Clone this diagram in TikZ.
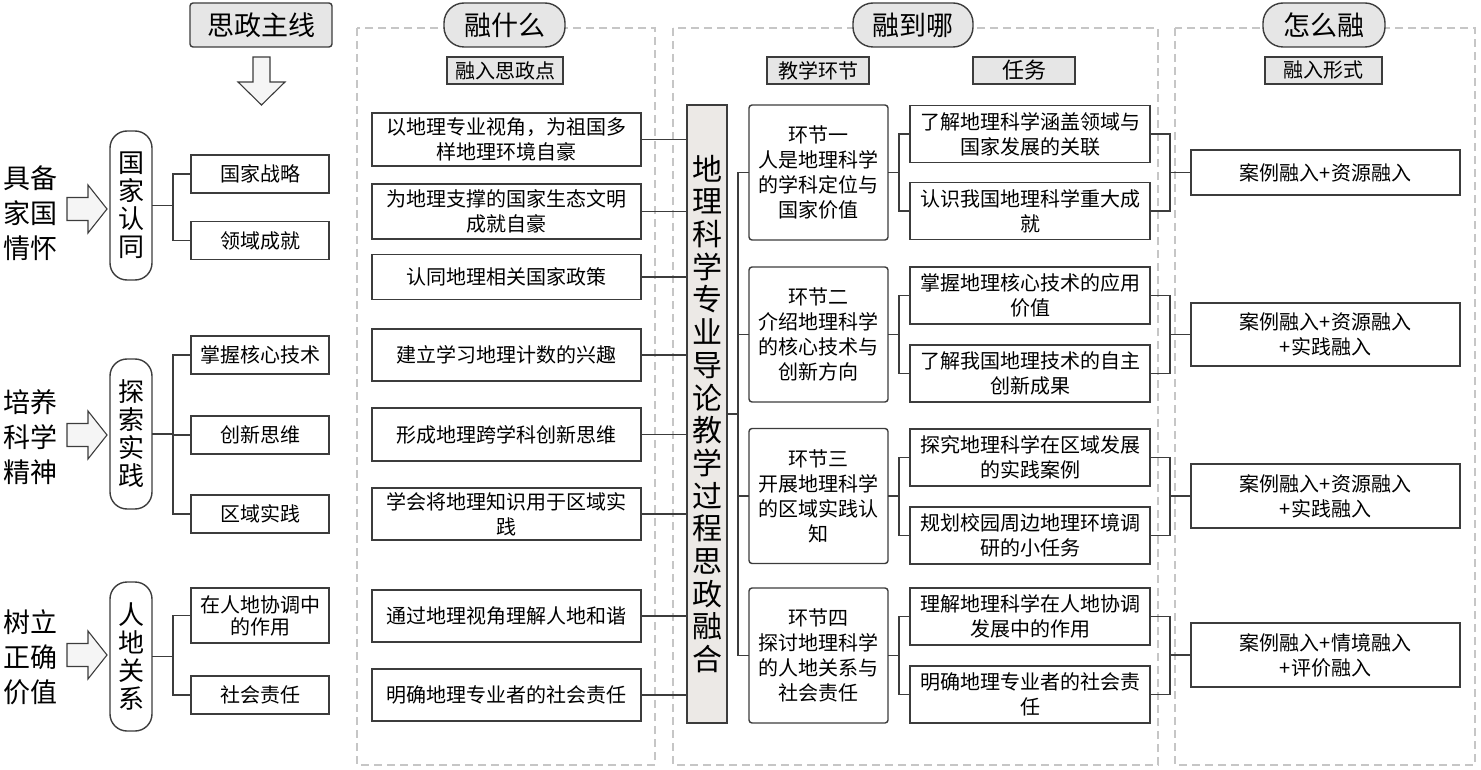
\documentclass[tikz,border=0pt]{standalone}
\usepackage{fontspec}
\setmainfont{Noto Sans CJK SC}
\usetikzlibrary{calc}
\definecolor{lc}{HTML}{3C3C3C}
\definecolor{hg}{HTML}{E6E6E6}
\definecolor{cg}{HTML}{ECE9E6}
\definecolor{dg}{HTML}{C6C6C6}
\definecolor{ag}{HTML}{F5F5F5}
\tikzset{
  every node/.style={inner sep=0pt, outer sep=0pt},
  conn/.style={draw=lc, line width=1.1pt},
  box/.style={draw=lc, line width=1.4pt, fill=white, align=center, font=\fontsize{20}{25}\selectfont},
  rbox/.style={box, rounded corners=3pt},
  pill/.style={draw=lc, line width=1.4pt, fill=white, rounded corners=17pt, align=center, font=\fontsize{26}{28}\selectfont},
  hpill/.style={draw=lc, line width=1.4pt, fill=hg, rounded corners=20pt, font=\fontsize{27}{30}\selectfont, minimum height=44pt},
  subhead/.style={draw=lc, line width=1.8pt, fill=hg, font=\fontsize{20}{22}\selectfont, minimum height=27pt},
  col/.style={draw=dg, line width=1.2pt, dash pattern=on 8pt off 5pt},
  lab/.style={align=center, font=\fontsize{27}{35}\selectfont},
  blockarrow/.style={draw=lc, line width=1.1pt, fill=ag, line join=miter},
}
\begin{document}
\begin{tikzpicture}[x=1pt,y=-1pt]
\useasboundingbox (0,0) rectangle (1481,770);
% dashed columns
\draw[col] (357,28) rectangle (655,765);
\draw[col] (673,28) rectangle (1158,765);
\draw[col] (1175,28) rectangle (1475,765);

% headers
\node[draw=lc, line width=1.4pt, fill=hg, rounded corners=3pt, font=\fontsize{27}{30}\selectfont,
      minimum width=142pt, minimum height=44pt] (hmain) at (261,25) {思政主线};
\node[hpill, minimum width=121pt] (hwhat) at (504.5,25) {融什么};
\node[hpill, minimum width=120pt] (hwhere) at (913,25) {融到哪};
\node[hpill, minimum width=122pt] (hhow) at (1324,25) {怎么融};

\node[subhead, minimum width=116pt] (s1) at (505,70.5) {融入思政点};
\node[subhead, minimum width=102pt] (s2) at (818,70.5) {教学环节};
\node[subhead, minimum width=102pt, font=\fontsize{22}{24}\selectfont] (s3) at (1024,70.5) {任务};
\node[subhead, minimum width=117pt] (s4) at (1323.5,70.5) {融入形式};

% down block arrow
\draw[blockarrow] (253,57) -- (270,57) -- (270,82) -- (285,82) -- (261.5,105) -- (238,82) -- (253,82) -- cycle;

% left labels
\node[lab] (l1) at (31,213) {具备\\家国\\情怀};
\node[lab] (l2) at (31,437) {培养\\科学\\精神};
\node[lab] (l3) at (31,657) {树立\\正确\\价值};

% right block arrows
\foreach \cy in {209,435,655}{
  \draw[blockarrow] (67,\cy-11.5) -- (88,\cy-11.5) -- (88,\cy-24) -- (107,\cy) -- (88,\cy+24) -- (88,\cy+11.5) -- (67,\cy+11.5) -- cycle;
}

% pills
\node[pill, minimum width=42pt, minimum height=149pt] (p1) at (131,205.5) {国\\家\\认\\同};
\node[pill, minimum width=42pt, minimum height=150pt] (p2) at (131,434) {探\\索\\实\\践};
\node[pill, minimum width=42pt, minimum height=149pt] (p3) at (131,656.5) {人\\地\\关\\系};

% column A boxes
\tikzset{abox/.style={box, minimum width=138pt, minimum height=38pt, font=\fontsize{20}{22}\selectfont}}
\node[abox] (a1) at (260,174) {国家战略};
\node[abox] (a2) at (260,240.5) {领域成就};
\node[abox] (a3) at (260,355) {掌握核心技术};
\node[abox] (a4) at (260,435) {创新思维};
\node[abox] (a5) at (260,514) {区域实践};
\node[abox, minimum height=55pt] (a6) at (260,615.5) {在人地协调中\\的作用};
\node[abox] (a7) at (260,695) {社会责任};

% column 1 boxes
\tikzset{bbox/.style={box, minimum width=269pt, minimum height=52pt}}
\node[bbox, minimum height=53pt] (b1) at (506.5,139.5) {以地理专业视角，为祖国多\\样地理环境自豪};
\node[bbox, minimum height=55pt] (b2) at (506.5,211.5) {为地理支撑的国家生态文明\\成就自豪};
\node[bbox, minimum height=45pt] (b3) at (506.5,277) {认同地理相关国家政策};
\node[bbox] (b4) at (506.5,355) {建立学习地理计数的兴趣};
\node[bbox, minimum height=53pt] (b5) at (506.5,434.5) {形成地理跨学科创新思维};
\node[bbox] (b6) at (506.5,514) {学会将地理知识用于区域实\\践};
\node[bbox] (b7) at (506.5,616) {通过地理视角理解人地和谐};
\node[bbox] (b8) at (506.5,695) {明确地理专业者的社会责任};

% central box
\node[draw=lc, line width=1.6pt, fill=cg, minimum width=40pt, minimum height=618pt, align=center,
      font=\fontsize{30}{32.7}\selectfont] (c) at (707,414)
  {地\\理\\科\\学\\专\\业\\导\\论\\教\\学\\过\\程\\思\\政\\融\\合};

% stage boxes
\tikzset{hbox/.style={rbox, minimum width=139pt, minimum height=135pt}}
\node[hbox] (h1) at (818.5,172.5) {环节一\\人是地理科学\\的学科定位与\\国家价值};
\node[hbox] (h2) at (818.5,334.5) {环节二\\介绍地理科学\\的核心技术与\\创新方向};
\node[hbox] (h3) at (818.5,496) {环节三\\开展地理科学\\的区域实践认\\知};
\node[hbox] (h4) at (818.5,655.5) {环节四\\探讨地理科学\\的人地关系与\\社会责任};

% task boxes
\tikzset{tbox/.style={box, minimum width=240pt, minimum height=57pt}}
\node[tbox] (t1) at (1030,134) {了解地理科学涵盖领域与\\国家发展的关联};
\node[tbox] (t2) at (1030,211) {认识我国地理科学重大成\\就};
\node[tbox] (t3) at (1030,295.5) {掌握地理核心技术的应用\\价值};
\node[tbox] (t4) at (1030,373.5) {了解我国地理技术的自主\\创新成果};
\node[tbox] (t5) at (1030,457.5) {探究地理科学在区域发展\\的实践案例};
\node[tbox] (t6) at (1030,535.5) {规划校园周边地理环境调\\研的小任务};
\node[tbox] (t7) at (1030,616.5) {理解地理科学在人地协调\\发展中的作用};
\node[tbox] (t8) at (1030,694.5) {明确地理专业者的社会责\\任};

% form boxes
\tikzset{fbox/.style={box, minimum width=269pt, minimum height=64pt}}
\node[fbox, minimum height=45pt] (f1) at (1325.5,172.5) {案例融入+资源融入};
\node[fbox, minimum height=63pt] (f2) at (1325.5,334.5) {案例融入+资源融入\\+实践融入};
\node[fbox] (f3) at (1325.5,496) {案例融入+资源融入\\+实践融入};
\node[fbox] (f4) at (1325.5,655) {案例融入+情境融入\\+评价融入};

% connectors: pills -> column A
\path (p1.east) -- ++(21,0) coordinate (jp1);
\path (p2.east) -- ++(21,0) coordinate (jp2);
\path (p3.east) -- ++(21,0) coordinate (jp3);
\draw[conn] (p1.east) -- (jp1);
\draw[conn] (a1.west) -| (jp1) |- (a2.west);
\draw[conn] (p2.east) -- (jp2);
\draw[conn] (a3.west) -| (jp2) |- (a5.west);
\draw[conn] (a4.west) -- (a4.west -| jp2);
\draw[conn] (p3.east) -- (jp3);
\draw[conn] (a6.west) -| (jp3) |- (a7.west);

% column 1 -> central
\foreach \b in {b1,b2,b3,b4,b5,b6,b7,b8}{
  \draw[conn] (\b.east) -- (\b.east -| c.west);
}

% central -> stages
\path (c.east) -- ++(11,0) coordinate (jc);
\draw[conn] (c.east) -- (jc);
\draw[conn] (h1.west) -| (jc) |- (h4.west);
\draw[conn] (h2.west) -- (h2.west -| jc);
\draw[conn] (h3.west) -- (h3.west -| jc);

% stages -> tasks
\foreach \h/\ta/\tb in {h1/t1/t2, h2/t3/t4, h3/t5/t6, h4/t7/t8}{
  \path (\h.east) -- ++(11,0) coordinate (j\h);
  \draw[conn] (\h.east) -- (j\h);
  \draw[conn] (\ta.west) -| (j\h) |- (\tb.west);
}

% tasks -> forms
\foreach \f/\ta/\tb in {f1/t1/t2, f2/t3/t4, f3/t5/t6, f4/t7/t8}{
  \path (\f.west) -- ++(-21,0) coordinate (j\f);
  \draw[conn] (\f.west) -- (j\f);
  \draw[conn] (\ta.east) -| (j\f) |- (\tb.east);
}
\end{tikzpicture}
\end{document}
